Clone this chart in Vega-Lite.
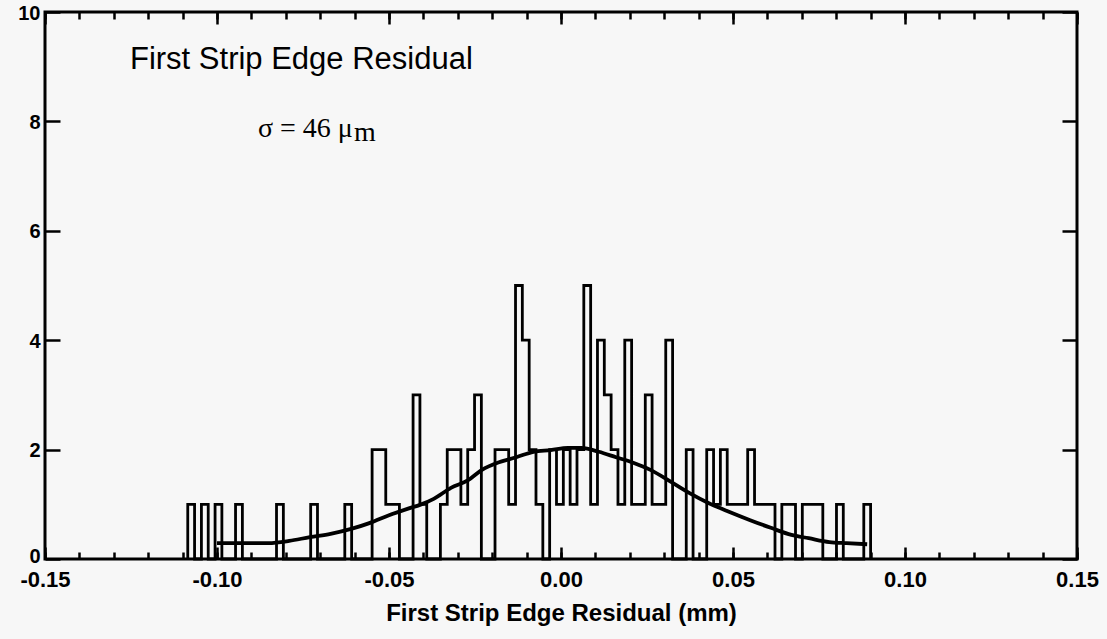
{
  "$schema": "https://vega.github.io/schema/vega-lite/v6.json",
  "width": 1032,
  "height": 547,
  "autosize": {"type": "none"},
  "padding": {"left": 45, "top": 12, "right": 30, "bottom": 80},
  "background": "#f7f7f7",
  "view": {"stroke": "#000", "strokeWidth": 3},
  "datasets": {
    "hist": [
      {"i": 0, "x": -0.1085, "n": 0},
      {"i": 1, "x": -0.1085, "n": 1},
      {"i": 2, "x": -0.10652, "n": 0},
      {"i": 3, "x": -0.10453, "n": 1},
      {"i": 4, "x": -0.10255, "n": 0},
      {"i": 5, "x": -0.10056, "n": 1},
      {"i": 6, "x": -0.09858, "n": 0},
      {"i": 7, "x": -0.09659, "n": 0},
      {"i": 8, "x": -0.09461, "n": 1},
      {"i": 9, "x": -0.09262, "n": 0},
      {"i": 10, "x": -0.09064, "n": 0},
      {"i": 11, "x": -0.08865, "n": 0},
      {"i": 12, "x": -0.08667, "n": 0},
      {"i": 13, "x": -0.08468, "n": 0},
      {"i": 14, "x": -0.0827, "n": 1},
      {"i": 15, "x": -0.08071, "n": 0},
      {"i": 16, "x": -0.07873, "n": 0},
      {"i": 17, "x": -0.07674, "n": 0},
      {"i": 18, "x": -0.07476, "n": 0},
      {"i": 19, "x": -0.07277, "n": 1},
      {"i": 20, "x": -0.07079, "n": 0},
      {"i": 21, "x": -0.0688, "n": 0},
      {"i": 22, "x": -0.06682, "n": 0},
      {"i": 23, "x": -0.06483, "n": 0},
      {"i": 24, "x": -0.06285, "n": 1},
      {"i": 25, "x": -0.06086, "n": 0},
      {"i": 26, "x": -0.05888, "n": 0},
      {"i": 27, "x": -0.05689, "n": 0},
      {"i": 28, "x": -0.05491, "n": 2},
      {"i": 29, "x": -0.05292, "n": 2},
      {"i": 30, "x": -0.05094, "n": 1},
      {"i": 31, "x": -0.04895, "n": 1},
      {"i": 32, "x": -0.04697, "n": 0},
      {"i": 33, "x": -0.04498, "n": 0},
      {"i": 34, "x": -0.043, "n": 3},
      {"i": 35, "x": -0.04101, "n": 1},
      {"i": 36, "x": -0.03903, "n": 0},
      {"i": 37, "x": -0.03704, "n": 0},
      {"i": 38, "x": -0.03506, "n": 1},
      {"i": 39, "x": -0.03307, "n": 2},
      {"i": 40, "x": -0.03109, "n": 2},
      {"i": 41, "x": -0.0291, "n": 1},
      {"i": 42, "x": -0.02712, "n": 2},
      {"i": 43, "x": -0.02513, "n": 3},
      {"i": 44, "x": -0.02315, "n": 0},
      {"i": 45, "x": -0.02116, "n": 0},
      {"i": 46, "x": -0.01918, "n": 2},
      {"i": 47, "x": -0.01719, "n": 2},
      {"i": 48, "x": -0.01521, "n": 1},
      {"i": 49, "x": -0.01322, "n": 5},
      {"i": 50, "x": -0.01124, "n": 4},
      {"i": 51, "x": -0.00925, "n": 2},
      {"i": 52, "x": -0.00727, "n": 1},
      {"i": 53, "x": -0.00528, "n": 0},
      {"i": 54, "x": -0.0033, "n": 2},
      {"i": 55, "x": -0.00131, "n": 1},
      {"i": 56, "x": 0.00068, "n": 2},
      {"i": 57, "x": 0.00266, "n": 1},
      {"i": 58, "x": 0.00465, "n": 2},
      {"i": 59, "x": 0.00663, "n": 5},
      {"i": 60, "x": 0.00862, "n": 1},
      {"i": 61, "x": 0.0106, "n": 4},
      {"i": 62, "x": 0.01259, "n": 3},
      {"i": 63, "x": 0.01457, "n": 2},
      {"i": 64, "x": 0.01656, "n": 1},
      {"i": 65, "x": 0.01854, "n": 4},
      {"i": 66, "x": 0.02053, "n": 1},
      {"i": 67, "x": 0.02251, "n": 1},
      {"i": 68, "x": 0.0245, "n": 3},
      {"i": 69, "x": 0.02648, "n": 1},
      {"i": 70, "x": 0.02847, "n": 1},
      {"i": 71, "x": 0.03045, "n": 4},
      {"i": 72, "x": 0.03244, "n": 0},
      {"i": 73, "x": 0.03442, "n": 0},
      {"i": 74, "x": 0.03641, "n": 2},
      {"i": 75, "x": 0.03839, "n": 0},
      {"i": 76, "x": 0.04038, "n": 0},
      {"i": 77, "x": 0.04236, "n": 2},
      {"i": 78, "x": 0.04435, "n": 1},
      {"i": 79, "x": 0.04633, "n": 2},
      {"i": 80, "x": 0.04832, "n": 1},
      {"i": 81, "x": 0.0503, "n": 1},
      {"i": 82, "x": 0.05229, "n": 1},
      {"i": 83, "x": 0.05427, "n": 2},
      {"i": 84, "x": 0.05626, "n": 1},
      {"i": 85, "x": 0.05824, "n": 1},
      {"i": 86, "x": 0.06023, "n": 1},
      {"i": 87, "x": 0.06221, "n": 0},
      {"i": 88, "x": 0.0642, "n": 1},
      {"i": 89, "x": 0.06618, "n": 1},
      {"i": 90, "x": 0.06817, "n": 0},
      {"i": 91, "x": 0.07015, "n": 1},
      {"i": 92, "x": 0.07214, "n": 1},
      {"i": 93, "x": 0.07412, "n": 1},
      {"i": 94, "x": 0.07611, "n": 0},
      {"i": 95, "x": 0.07809, "n": 0},
      {"i": 96, "x": 0.08008, "n": 1},
      {"i": 97, "x": 0.08206, "n": 0},
      {"i": 98, "x": 0.08405, "n": 0},
      {"i": 99, "x": 0.08603, "n": 0},
      {"i": 100, "x": 0.08802, "n": 1},
      {"i": 101, "x": 0.09, "n": 0}
    ],
    "fit": [
      {"x": -0.1, "y": 0.29},
      {"x": -0.085, "y": 0.29},
      {"x": -0.079, "y": 0.33},
      {"x": -0.073, "y": 0.4},
      {"x": -0.067, "y": 0.46},
      {"x": -0.061, "y": 0.55},
      {"x": -0.0555, "y": 0.66},
      {"x": -0.05, "y": 0.8},
      {"x": -0.044, "y": 0.93},
      {"x": -0.041, "y": 0.99},
      {"x": -0.037, "y": 1.1},
      {"x": -0.032, "y": 1.3},
      {"x": -0.027, "y": 1.44},
      {"x": -0.023, "y": 1.63},
      {"x": -0.018, "y": 1.77},
      {"x": -0.013, "y": 1.86},
      {"x": -0.008, "y": 1.96},
      {"x": -0.003, "y": 1.99},
      {"x": 0.002, "y": 2.03},
      {"x": 0.006, "y": 2.03},
      {"x": 0.011, "y": 1.96},
      {"x": 0.016, "y": 1.86},
      {"x": 0.021, "y": 1.76},
      {"x": 0.026, "y": 1.63},
      {"x": 0.032, "y": 1.41},
      {"x": 0.0375, "y": 1.2},
      {"x": 0.043, "y": 1.02},
      {"x": 0.049, "y": 0.86},
      {"x": 0.055, "y": 0.71},
      {"x": 0.061, "y": 0.57},
      {"x": 0.067, "y": 0.44},
      {"x": 0.072, "y": 0.38},
      {"x": 0.078, "y": 0.31},
      {"x": 0.083, "y": 0.29},
      {"x": 0.089, "y": 0.27}
    ],
    "labels": [
      {"x": -0.1253, "y": 8.95, "text": "First Strip Edge Residual"}
    ],
    "sigma": [
      {"x": -0.0881, "y": 7.72, "text": "σ = 46 μ"},
      {"x": -0.0602, "y": 7.64, "text": "m"}
    ]
  },
  "layer": [
    {
      "data": {"name": "hist"},
      "mark": {"type": "line", "interpolate": "step-after", "color": "#000", "strokeWidth": 2.8},
      "encoding": {
        "x": {
          "field": "x", "type": "quantitative",
          "scale": {"domain": [-0.15, 0.15], "nice": false, "zero": false},
          "axis": {
            "orient": "bottom", "values": [-0.15, -0.1, -0.05, 0, 0.05, 0.1, 0.15],
            "labelExpr": "replace(format(datum.value, '.2f'), '\u2212', '-')",
            "tickSize": -12, "tickWidth": 2.5, "tickColor": "#000",
            "domain": false, "grid": false,
            "labelFont": "Liberation Sans", "labelFontSize": 22, "labelFontWeight": "bold", "labelColor": "#000",
            "labelPadding": 22, "labelFlush": false, "labelOverlap": false, "labelBound": false,
            "title": "First Strip Edge Residual (mm)",
            "titleFont": "Liberation Sans", "titleFontSize": 24, "titleFontWeight": "bold", "titleColor": "#000",
            "titlePadding": 11
          }
        },
        "y": {
          "field": "n", "type": "quantitative",
          "scale": {"domain": [0, 10], "nice": false, "zero": true},
          "axis": {
            "orient": "left", "values": [0, 2, 4, 6, 8, 10],
            "tickSize": -15, "tickWidth": 2.5, "tickColor": "#000",
            "domain": false, "grid": false,
            "labelFont": "Liberation Sans", "labelFontSize": 20, "labelFontWeight": "bold", "labelColor": "#000",
            "labelPadding": 20,
            "labelOffset": {"condition": {"test": "datum.value === 0", "value": -3}, "value": 1},
            "labelOverlap": false, "labelBound": false, "labelFlush": false,
            "title": null
          }
        },
        "order": {"field": "i", "type": "quantitative"}
      }
    },
    {
      "data": {"name": "fit"},
      "mark": {"type": "line", "interpolate": "monotone", "color": "#000", "strokeWidth": 3.8},
      "encoding": {
        "x": {
          "field": "x", "type": "quantitative",
          "axis": {
            "orient": "top", "values": [-0.15, -0.1, -0.05, 0, 0.05, 0.1, 0.15],
            "tickSize": -12, "tickWidth": 2.5, "tickColor": "#000",
            "labels": false, "domain": false, "grid": false, "title": null
          }
        },
        "y": {
          "field": "y", "type": "quantitative",
          "axis": {
            "orient": "right", "values": [0, 2, 4, 6, 8, 10],
            "tickSize": -15, "tickWidth": 2.5, "tickColor": "#000",
            "labels": false, "domain": false, "grid": false, "title": null
          }
        }
      }
    },
    {
      "data": {"name": "labels"},
      "mark": {"type": "text", "align": "left", "baseline": "alphabetic", "font": "Liberation Sans", "fontSize": 31, "color": "#000"},
      "encoding": {
        "x": {
          "field": "x", "type": "quantitative",
          "axis": {
            "orient": "bottom",
            "values": [-0.15, -0.14, -0.13, -0.12, -0.11, -0.1, -0.09, -0.08, -0.07, -0.06, -0.05, -0.04, -0.03, -0.02, -0.01, 0, 0.01, 0.02, 0.03, 0.04, 0.05, 0.06, 0.07, 0.08, 0.09, 0.1, 0.11, 0.12, 0.13, 0.14, 0.15],
            "tickSize": -7, "tickWidth": 2.5, "tickColor": "#000",
            "labels": false, "domain": false, "grid": false, "title": null
          }
        },
        "y": {"field": "y", "type": "quantitative", "axis": null},
        "text": {"field": "text"}
      }
    },
    {
      "data": {"name": "sigma"},
      "mark": {"type": "text", "align": "left", "baseline": "alphabetic", "font": "Liberation Serif", "fontSize": 28, "color": "#000"},
      "encoding": {
        "x": {
          "field": "x", "type": "quantitative",
          "axis": {
            "orient": "top",
            "values": [-0.15, -0.14, -0.13, -0.12, -0.11, -0.1, -0.09, -0.08, -0.07, -0.06, -0.05, -0.04, -0.03, -0.02, -0.01, 0, 0.01, 0.02, 0.03, 0.04, 0.05, 0.06, 0.07, 0.08, 0.09, 0.1, 0.11, 0.12, 0.13, 0.14, 0.15],
            "tickSize": -7, "tickWidth": 2.5, "tickColor": "#000",
            "labels": false, "domain": false, "grid": false, "title": null
          }
        },
        "y": {"field": "y", "type": "quantitative", "axis": null},
        "text": {"field": "text"}
      }
    }
  ],
  "resolve": {"axis": {"x": "independent", "y": "independent"}}
}
